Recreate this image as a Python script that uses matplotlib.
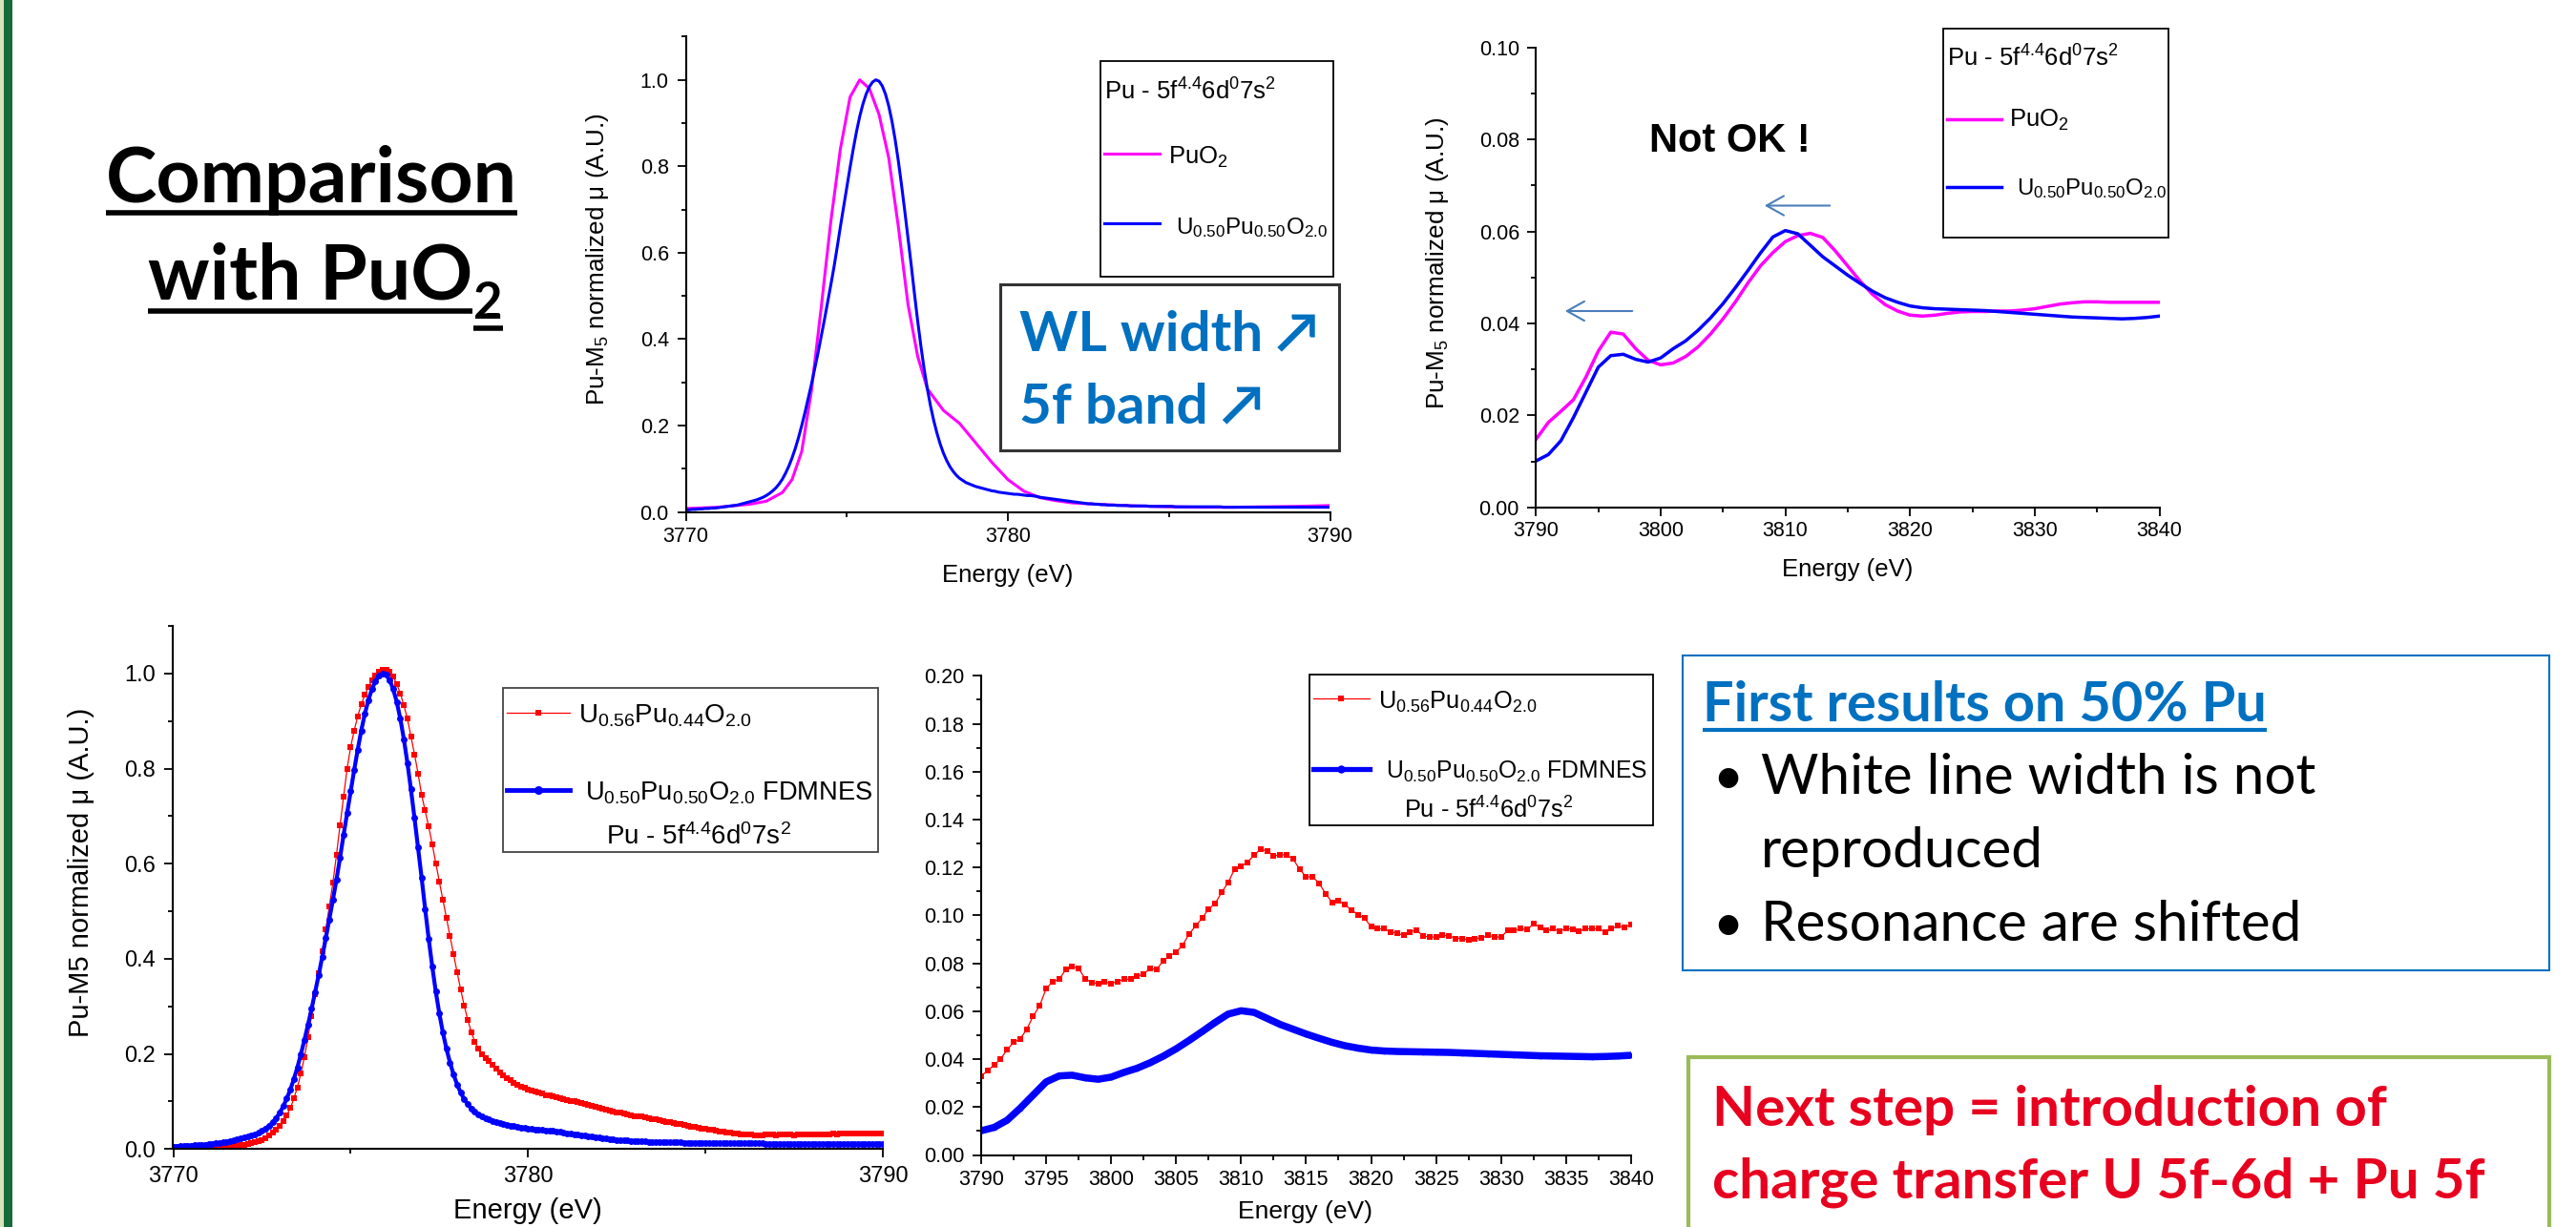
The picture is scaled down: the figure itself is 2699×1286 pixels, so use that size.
import numpy as np
import matplotlib
matplotlib.use("Agg")
import matplotlib.pyplot as plt
from matplotlib.lines import Line2D
from matplotlib.patches import Rectangle, FancyArrowPatch, ArrowStyle
from matplotlib.ticker import MultipleLocator

W, H = 2699, 1286
plt.rcParams['font.family'] = ['Liberation Sans', 'DejaVu Sans']
plt.rcParams['mathtext.fontset'] = 'custom'
plt.rcParams['mathtext.rm'] = 'Liberation Sans'
plt.rcParams['mathtext.it'] = 'Liberation Sans:italic'
plt.rcParams['mathtext.bf'] = 'Liberation Sans:bold'

# ---------------- data ----------------
# white line region, 0.1 eV grid
energy_wl = np.round(np.arange(3770.0, 3790.05, 0.1), 1)
sim_u50_wl = [
    0.005, 0.005, 0.006, 0.006, 0.007, 0.007, 0.008, 0.008, 0.009, 0.009,
    0.010, 0.011, 0.012, 0.013, 0.014, 0.015, 0.016, 0.018, 0.020, 0.022,
    0.024, 0.026, 0.028, 0.031, 0.034, 0.038, 0.043, 0.049, 0.056, 0.065,
    0.076, 0.090, 0.106, 0.125, 0.147, 0.172, 0.200, 0.230, 0.262, 0.295,
    0.330, 0.366, 0.404, 0.443, 0.483, 0.524, 0.566, 0.612, 0.660, 0.706,
    0.752, 0.797, 0.840, 0.880, 0.915, 0.944, 0.967, 0.984, 0.995, 1.000,
    0.997, 0.986, 0.967, 0.940, 0.905, 0.862, 0.812, 0.756, 0.696, 0.634,
    0.571, 0.505, 0.442, 0.384, 0.331, 0.285, 0.245, 0.211, 0.182, 0.157,
    0.136, 0.119, 0.105, 0.094, 0.085, 0.078, 0.073, 0.068, 0.065, 0.062,
    0.059, 0.057, 0.055, 0.053, 0.051, 0.049, 0.048, 0.046, 0.045, 0.044,
    0.043, 0.042, 0.041, 0.041, 0.040, 0.039, 0.038, 0.038, 0.037, 0.036,
    0.034, 0.033, 0.032, 0.031, 0.030, 0.029, 0.028, 0.027, 0.026, 0.025,
    0.024, 0.023, 0.022, 0.021, 0.020, 0.019, 0.019, 0.018, 0.018, 0.017,
    0.017, 0.016, 0.016, 0.016, 0.015, 0.015, 0.015, 0.015, 0.014, 0.014,
    0.014, 0.014, 0.014, 0.014, 0.013, 0.013, 0.013, 0.013, 0.013, 0.013,
    0.013, 0.013, 0.012, 0.012, 0.012, 0.012, 0.012, 0.012, 0.012, 0.012,
    0.012, 0.012, 0.012, 0.012, 0.012, 0.012, 0.012, 0.011, 0.011, 0.011,
    0.011, 0.011, 0.011, 0.011, 0.011, 0.011, 0.011, 0.011, 0.011, 0.011,
    0.011, 0.011, 0.011, 0.011, 0.011, 0.011, 0.011, 0.011, 0.011, 0.011,
    0.011, 0.011, 0.011, 0.011, 0.011, 0.011, 0.011, 0.011, 0.011, 0.011,
    0.011,
]
exp_u56_wl = [
    0.000, 0.000, 0.000, 0.000, 0.000, 0.001, 0.001, 0.001, 0.001, 0.001,
    0.002, 0.002, 0.002, 0.003, 0.003, 0.004, 0.005, 0.006, 0.007, 0.008,
    0.009, 0.010, 0.012, 0.014, 0.016, 0.019, 0.023, 0.028, 0.034, 0.041,
    0.049, 0.059, 0.071, 0.086, 0.106, 0.130, 0.160, 0.194, 0.236, 0.280,
    0.325, 0.370, 0.415, 0.462, 0.510, 0.560, 0.618, 0.680, 0.740, 0.800,
    0.845, 0.880, 0.910, 0.935, 0.955, 0.972, 0.985, 0.995, 1.003, 1.008,
    1.008, 1.003, 0.993, 0.978, 0.958, 0.933, 0.905, 0.868, 0.830, 0.790,
    0.745, 0.712, 0.678, 0.641, 0.601, 0.562, 0.524, 0.486, 0.448, 0.410,
    0.372, 0.336, 0.302, 0.272, 0.246, 0.226, 0.211, 0.200, 0.192, 0.185,
    0.178, 0.170, 0.162, 0.155, 0.150, 0.145, 0.140, 0.136, 0.132, 0.128,
    0.124, 0.122, 0.120, 0.118, 0.116, 0.113, 0.112, 0.110, 0.108, 0.107,
    0.104, 0.103, 0.101, 0.100, 0.098, 0.096, 0.094, 0.092, 0.090, 0.088,
    0.086, 0.084, 0.082, 0.080, 0.079, 0.077, 0.076, 0.074, 0.072, 0.071,
    0.069, 0.068, 0.069, 0.066, 0.064, 0.063, 0.062, 0.060, 0.059, 0.057,
    0.056, 0.054, 0.053, 0.052, 0.050, 0.049, 0.047, 0.046, 0.045, 0.043,
    0.042, 0.041, 0.040, 0.039, 0.037, 0.036, 0.035, 0.034, 0.033, 0.032,
    0.031, 0.031, 0.030, 0.030, 0.029, 0.029, 0.029, 0.030, 0.030, 0.030,
    0.029, 0.030, 0.030, 0.030, 0.030, 0.029, 0.030, 0.030, 0.031, 0.030,
    0.030, 0.031, 0.031, 0.030, 0.031, 0.031, 0.032, 0.031, 0.032, 0.032,
    0.033, 0.032, 0.033, 0.033, 0.032, 0.033, 0.033, 0.033, 0.032, 0.033,
    0.033,
]
energy_puo2_wl = [3770.0, 3771.0, 3772.0, 3772.5, 3773.0, 3773.3, 3773.6, 3773.9,
                  3774.2, 3774.5, 3774.8, 3775.1, 3775.4, 3775.7, 3776.0, 3776.3,
                  3776.6, 3776.9, 3777.2, 3777.5, 3778.0, 3778.5, 3779.0, 3779.5,
                  3780.0, 3780.5, 3781.0, 3781.5, 3782.0, 3783.0, 3784.0, 3785.0,
                  3786.0, 3787.0, 3788.0, 3789.0, 3790.0]
puo2_wl = [0.008, 0.011, 0.018, 0.025, 0.045, 0.075, 0.14, 0.28,
           0.47, 0.67, 0.84, 0.96, 1.00, 0.98, 0.92, 0.82,
           0.66, 0.48, 0.36, 0.285, 0.235, 0.205, 0.16, 0.115,
           0.075, 0.048, 0.033, 0.026, 0.021, 0.017, 0.014, 0.012,
           0.011, 0.011, 0.012, 0.013, 0.015]

# XANES region, 1 eV grid (simulations)
energy_xanes = np.arange(3790, 3841, 1)
sim_u50_xanes = [
    0.0101, 0.0115, 0.0145, 0.0195, 0.0250, 0.0305, 0.0330, 0.0333, 0.0322, 0.0316,
    0.0325, 0.0345, 0.0362, 0.0385, 0.0412, 0.0443, 0.0478, 0.0515, 0.0553, 0.0588,
    0.0602, 0.0595, 0.0570, 0.0545, 0.0525, 0.0505, 0.0487, 0.0470, 0.0456, 0.0446,
    0.0438, 0.0434, 0.0432, 0.0431, 0.0430, 0.0429, 0.0428, 0.0426, 0.0424, 0.0422,
    0.0420, 0.0418, 0.0416, 0.0414, 0.0413, 0.0412, 0.0411, 0.0410, 0.0411, 0.0413,
    0.0416,
]
puo2_xanes = [
    0.0148, 0.0185, 0.0209, 0.0234, 0.0283, 0.0340, 0.0381, 0.0377, 0.0345, 0.0320,
    0.0310, 0.0314, 0.0328, 0.0349, 0.0377, 0.0410, 0.0447, 0.0488, 0.0525, 0.0554,
    0.0578, 0.0591, 0.0596, 0.0587, 0.0558, 0.0525, 0.0492, 0.0463, 0.0441, 0.0427,
    0.0418, 0.0416, 0.0418, 0.0422, 0.0425, 0.0426, 0.0426, 0.0427, 0.0427, 0.0429,
    0.0432, 0.0437, 0.0442, 0.0445, 0.0447, 0.0447, 0.0446, 0.0446, 0.0446, 0.0446,
    0.0446,
]
# XANES region, 0.5 eV grid (experiment)
energy_exp_xanes = np.arange(3790.0, 3840.01, 0.5)
exp_u56_xanes = [
    0.0330, 0.0352, 0.0376, 0.0400, 0.0440, 0.0470, 0.0484, 0.0524, 0.0579, 0.0623,
    0.0694, 0.0724, 0.0733, 0.0773, 0.0787, 0.0778, 0.0736, 0.0719, 0.0716, 0.0722,
    0.0716, 0.0724, 0.0734, 0.0733, 0.0745, 0.0756, 0.0778, 0.0775, 0.0809, 0.0832,
    0.0846, 0.0876, 0.0922, 0.0956, 0.0988, 0.1027, 0.1049, 0.1096, 0.1137, 0.1193,
    0.1205, 0.1222, 0.1252, 0.1276, 0.1269, 0.1247, 0.1254, 0.1252, 0.1235, 0.1193,
    0.1161, 0.1161, 0.1134, 0.1091, 0.1054, 0.1061, 0.1044, 0.1022, 0.1003, 0.0988,
    0.0953, 0.0944, 0.0944, 0.0931, 0.0926, 0.0917, 0.0931, 0.0939, 0.0914, 0.0909,
    0.0910, 0.0917, 0.0915, 0.0904, 0.0904, 0.0897, 0.0904, 0.0905, 0.0917, 0.0910,
    0.0909, 0.0937, 0.0937, 0.0944, 0.0941, 0.0964, 0.0951, 0.0936, 0.0944, 0.0934,
    0.0946, 0.0942, 0.0934, 0.0944, 0.0944, 0.0944, 0.0931, 0.0944, 0.0956, 0.0951,
    0.0961,
]

lab_puo2 = r'PuO$_{\mathrm{2}}$'
lab_sim = r'U$_{\mathrm{0.50}}$Pu$_{\mathrm{0.50}}$O$_{\mathrm{2.0}}$'
lab_exp = r'U$_{\mathrm{0.56}}$Pu$_{\mathrm{0.44}}$O$_{\mathrm{2.0}}$'
lab_conf = r'Pu - 5f$^{\mathrm{4.4}}$6d$^{\mathrm{0}}$7s$^{\mathrm{2}}$'
lab_fdmnes = lab_sim + ' FDMNES'
ylab_top = r'Pu-M$_{\mathrm{5}}$ normalized μ (A.U.)'
ylab_bottom = 'Pu-M5 normalized μ (A.U.)'
xlab = 'Energy (eV)'

C_MAG, C_BLUE, C_RED = '#FF00FF', '#0000FF', '#FF0000'
C_TXT_BLUE, C_TXT_RED = '#0070C0', '#E8001F'
CAL = ['Lato', 'DejaVu Sans']

# ---------------- figure ----------------
fig = plt.figure(figsize=(W / 100, H / 100), dpi=100)
fig.patch.set_facecolor('white')


def add_ax(left, right, top, bottom):
    return fig.add_axes([left / W, 1 - bottom / H, (right - left) / W, (bottom - top) / H])


def ftext(x, y, s, **kw):
    return fig.text(x / W, 1 - y / H, s, **kw)


def fline(xs, ys, **kw):
    fig.add_artist(Line2D([x / W for x in xs], [1 - y / H for y in ys],
                          transform=fig.transFigure, **kw))


def frect(x0, y0, x1, y1, **kw):
    fig.add_artist(Rectangle((x0 / W, 1 - y1 / H), (x1 - x0) / W, (y1 - y0) / H,
                             transform=fig.transFigure, **kw))


def style(ax, size, xpad, ypad):
    for s in ['top', 'right']:
        ax.spines[s].set_visible(False)
    for s in ['left', 'bottom']:
        ax.spines[s].set_linewidth(1.5)
    ax.tick_params(which='major', direction='out', length=6.7, width=1.3, labelsize=size)
    ax.tick_params(which='minor', direction='out', length=3.6, width=1.3)
    ax.tick_params(axis='x', which='major', pad=xpad)
    ax.tick_params(axis='y', which='major', pad=ypad)
    ax.patch.set_alpha(0)


def set_labels(ax, xl, xc, yl, yc, size_x, size_y):
    if xl is not None:
        ax.set_xlabel(xl, fontsize=size_x)
        ax.xaxis.set_label_coords(*xc)
        ax.xaxis.label.set_verticalalignment('center')
    if yl is not None:
        ax.set_ylabel(yl, fontsize=size_y)
        ax.yaxis.set_label_coords(*yc)
        ax.yaxis.label.set_verticalalignment('center')


# left slide border
frect(0, 0, 4, H, facecolor='#D7E4BD', edgecolor='none')
frect(4, 0, 13, H, facecolor='#166B3A', edgecolor='none')

# ---- top-middle: white line, PuO2 vs simulation ----
ax1 = add_ax(718.5, 1393.5, 38.4, 536.6)
ax1.plot(energy_puo2_wl, puo2_wl, color=C_MAG, lw=2.2)
ax1.plot(energy_wl, sim_u50_wl, color=C_BLUE, lw=2.2)
ax1.set_xlim(3770, 3790)
ax1.set_ylim(0, 1.1)
ax1.xaxis.set_major_locator(MultipleLocator(10))
ax1.xaxis.set_minor_locator(MultipleLocator(5))
ax1.yaxis.set_major_locator(MultipleLocator(0.2))
ax1.yaxis.set_minor_locator(MultipleLocator(0.1))
style(ax1, 15.5, 4.4, 6.0)
set_labels(ax1, xlab, (0.5, -0.133), ylab_top, (-0.137, 0.532), 18.5, 18.8)

# ---- top-right: XANES, PuO2 vs simulation ----
ax2 = add_ax(1609.3, 2262.5, 49.8, 531.8)
ax2.plot(energy_xanes, puo2_xanes, color=C_MAG, lw=2.5)
ax2.plot(energy_xanes, sim_u50_xanes, color=C_BLUE, lw=2.5)
ax2.set_xlim(3790, 3840)
ax2.set_ylim(0, 0.10)
ax2.xaxis.set_major_locator(MultipleLocator(10))
ax2.xaxis.set_minor_locator(MultipleLocator(5))
ax2.yaxis.set_major_locator(MultipleLocator(0.02))
ax2.yaxis.set_minor_locator(MultipleLocator(0.01))
style(ax2, 15.5, 3.8, 5.8)
set_labels(ax2, xlab, (0.5, -0.135), ylab_top, (-0.158, 0.531), 18.5, 18.8)

# ---- bottom-left: white line, experiment vs simulation ----
ax3 = add_ax(181.5, 925, 656, 1204.3)
ax3.plot(energy_wl, exp_u56_wl, color=C_RED, lw=0.9, marker='s', ms=4.2, mew=0)
ax3.plot(energy_wl, sim_u50_wl, color=C_BLUE, lw=3.0, marker='o', ms=5.0, mew=0)
ax3.set_xlim(3770, 3790)
ax3.set_ylim(0, 1.1)
ax3.xaxis.set_major_locator(MultipleLocator(10))
ax3.xaxis.set_minor_locator(MultipleLocator(5))
ax3.yaxis.set_major_locator(MultipleLocator(0.2))
ax3.yaxis.set_minor_locator(MultipleLocator(0.1))
style(ax3, 17, 5.9, 6.6)
set_labels(ax3, xlab, (0.499, -0.1175), ylab_bottom, (-0.130, 0.529), 21, 21)

# ---- bottom-middle: XANES, experiment vs simulation ----
ax4 = add_ax(1028, 1708.9, 708.3, 1210.5)
ax4.plot(energy_exp_xanes, exp_u56_xanes, color=C_RED, lw=0.9, marker='s', ms=4.3, mew=0)
ax4.plot(energy_xanes, sim_u50_xanes, color=C_BLUE, lw=5.4, marker='o', ms=4.0, mew=0,
         solid_capstyle='round')
ax4.set_xlim(3790, 3840)
ax4.set_ylim(0, 0.20)
ax4.xaxis.set_major_locator(MultipleLocator(5))
ax4.xaxis.set_minor_locator(MultipleLocator(2.5))
ax4.yaxis.set_major_locator(MultipleLocator(0.02))
ax4.yaxis.set_minor_locator(MultipleLocator(0.01))
style(ax4, 15.5, 4.5, 6.2)
set_labels(ax4, xlab, (0.499, -0.1185), None, None, 19, 17)

# ---------------- legends (drawn as boxes) ----------------
# top-middle
frect(1153.3, 64, 1396.7, 290, fill=False, edgecolor='black', lw=1.3)
ftext(1157.3, 105, lab_conf, fontsize=18.5, va='baseline')
fline([1156.7, 1215], [160.7, 160.7], color=C_MAG, lw=2.2)
ftext(1224, 171.7, lab_puo2, fontsize=18.5, va='baseline')
fline([1156.7, 1215], [234.3, 234.3], color=C_BLUE, lw=2.2)
ftext(1231.7, 245, lab_sim, fontsize=17.5, va='baseline')

# top-right
frect(2035.5, 29.7, 2272, 249, fill=False, edgecolor='black', lw=1.3)
ftext(2039.5, 69.2, lab_conf, fontsize=18.5, va='baseline')
fline([2039.5, 2097], [124.5, 124.5], color=C_MAG, lw=2.5)
ftext(2105, 132.5, lab_puo2, fontsize=18.5, va='baseline')
fline([2039.5, 2097], [196, 196], color=C_BLUE, lw=2.5)
ftext(2113, 203.6, lab_sim, fontsize=17.3, va='baseline')

# bottom-left
frect(527, 720.7, 920, 893, fill=False, edgecolor='#444444', lw=1.3)
fline([531, 597], [747.4, 747.4], color=C_RED, lw=0.9)
fline([564], [747.4], color=C_RED, marker='s', ms=5, mew=0, lw=0)
ftext(605.9, 758, lab_exp, fontsize=20, va='baseline')
fline([531, 597], [828, 828], color=C_BLUE, lw=3.5)
fline([564], [828], color=C_BLUE, marker='o', ms=6.5, mew=0, lw=0)
ftext(613, 838.7, lab_fdmnes, fontsize=19.6, va='baseline')
ftext(635, 885.4, lab_conf, fontsize=20, va='baseline')

# bottom-middle
frect(1372, 707, 1732, 865, fill=False, edgecolor='black', lw=1.3)
fline([1376, 1435], [732.5, 732.5], color=C_RED, lw=0.9)
fline([1405.5], [732.5], color=C_RED, marker='s', ms=5, mew=0, lw=0)
ftext(1443.7, 743, lab_exp, fontsize=18.3, va='baseline')
fline([1376, 1435], [805.6, 805.6], color=C_BLUE, lw=3.8)
fline([1405.5], [805.6], color=C_BLUE, marker='o', ms=6, mew=0, lw=0)
ftext(1452, 816, lab_fdmnes, fontsize=17.8, va='baseline')
ftext(1471.4, 857.8, lab_conf, fontsize=18.3, va='baseline')

# ---------------- annotations ----------------
ftext(1812, 159, 'Not OK !', fontsize=30, fontweight='bold', ha='center', va='baseline')
for (xa, xb, yy) in [(1920, 1846, 215.5), (1713, 1637, 326)]:
    arr = FancyArrowPatch((xa / W, 1 - yy / H), (xb / W, 1 - yy / H),
                          transform=fig.transFigure,
                          arrowstyle=ArrowStyle('->', head_length=0.5, head_width=0.28),
                          mutation_scale=26, color='#4A7EBB', lw=1.5)
    fig.add_artist(arr)

# WL box
frect(1048, 298, 1403, 472, fill=False, edgecolor='#333333', lw=2.2)
ftext(1068, 367.7, 'WL width \u2197', fontsize=42, fontweight='bold', color=C_TXT_BLUE,
      family=CAL, va='baseline')
ftext(1068, 443.6, '5f band \u2197', fontsize=42, fontweight='bold', color=C_TXT_BLUE,
      family=CAL, va='baseline')

# title
t_comp = ftext(111, 211.5, 'Comparison', fontsize=58, fontweight='bold', family=CAL,
               va='baseline')
t_with = ftext(155, 314, 'with PuO', fontsize=58, fontweight='bold', family=CAL,
               va='baseline')

# blue results box
frect(1762.6, 686.7, 2670.9, 1017, fill=False, edgecolor='#0070C0', lw=1.5)
t_first = ftext(1784, 756, 'First results on 50% Pu', fontsize=41.5, fontweight='bold',
                color=C_TXT_BLUE, family=CAL, va='baseline')
for yb in (832, 986):
    ftext(1794, yb, '\u2022', fontsize=40, family=CAL, va='baseline')
ftext(1845, 832, 'White line width is not', fontsize=42, family=CAL, va='baseline')
ftext(1845, 909, 'reproduced', fontsize=42, family=CAL, va='baseline')
ftext(1845, 986, 'Resonance are shifted', fontsize=42, family=CAL, va='baseline')

# green next-step box
frect(1769, 1108, 2671, 1300, fill=False, edgecolor='#9BBB59', lw=3)
ftext(1794, 1180, 'Next step = introduction of', fontsize=42, fontweight='bold',
      color=C_TXT_RED, family=CAL, va='baseline')
ftext(1794, 1255, 'charge transfer U 5f-6d + Pu 5f', fontsize=42, fontweight='bold',
      color=C_TXT_RED, family=CAL, va='baseline')

# underlines measured from rendered text
fig.canvas.draw()
rend = fig.canvas.get_renderer()
bb = t_comp.get_window_extent(rend)
fline([bb.x0, bb.x1], [223.4, 223.4], color='black', lw=4, solid_capstyle='butt')
bb = t_with.get_window_extent(rend)
fline([bb.x0, bb.x1], [326, 326], color='black', lw=4, solid_capstyle='butt')
t_sub = ftext(bb.x1 + 1, 334, '2', fontsize=38, fontweight='bold', family=CAL, va='baseline')
fig.canvas.draw()
bb2 = t_sub.get_window_extent(rend)
fline([bb2.x0, bb2.x1], [344, 344], color='black', lw=4, solid_capstyle='butt')
bb = t_first.get_window_extent(rend)
fline([bb.x0, bb.x1], [765, 765], color=C_TXT_BLUE, lw=3, solid_capstyle='butt')

fig.savefig('out.png', dpi=100, facecolor='white')
